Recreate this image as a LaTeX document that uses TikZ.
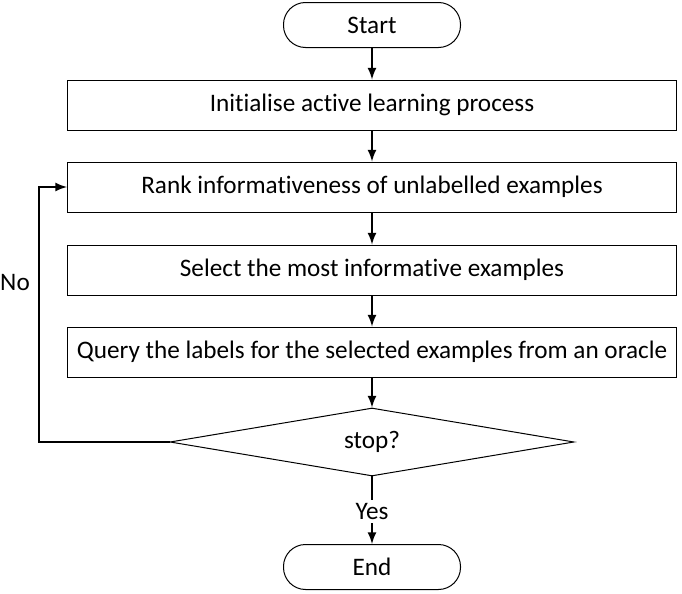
\documentclass[tikz,border=0pt]{standalone}
\usepackage{fontspec}
\setmainfont{Carlito}[Ligatures={NoCommon}]
\usetikzlibrary{shapes.geometric,positioning}

\begin{document}
\begin{tikzpicture}[node distance=41pt,on grid,auto,font=\fontsize{12.6}{14}\selectfont,
   terminal/.style={draw,rounded corners=11pt,minimum width=88.5pt,minimum height=22.5pt,line width=0.5pt},
   process/.style={draw,minimum width=304.5pt,minimum height=25pt,line width=0.5pt},
   decision/.style={draw,diamond,aspect=5.9,minimum width=202pt,minimum height=34pt,inner sep=0pt,line width=0.5pt},
   flow/.style={->,>=latex,line width=1pt}]
   \useasboundingbox (0,0) rectangle (341pt,-297pt);
   \node[terminal] (start) at (186pt,-12.5pt) {Start};
   \node[process] (init) [below=40pt of start] {Initialise active learning process};
   \node[process] (rank) [below=of init] {Rank informativeness of unlabelled examples};
   \node[process] (select) [below=41.5pt of rank] {Select the most informative examples};
   \node[process] (query) [below=of select] {Query the labels for the selected examples from an oracle};
   \node[decision] (stop) [below=45pt of query] {stop?};
   \node[terminal] (end) [below=62.5pt of stop] {End};
   \node (no) at (7.5pt,-141.5pt) {No};
    \path[flow]
    (start) edge (init)
    (init) edge (rank)
    (rank) edge (select)
    (select) edge (query)
    (query) edge (stop)
    (stop) edge node[fill=white,inner sep=1.5pt,anchor=center,pos=0.52] {Yes} (end);
    \draw[flow] (stop.west) -- ++(-65.5pt,0) |- (rank.west);
\end{tikzpicture}
\end{document}
